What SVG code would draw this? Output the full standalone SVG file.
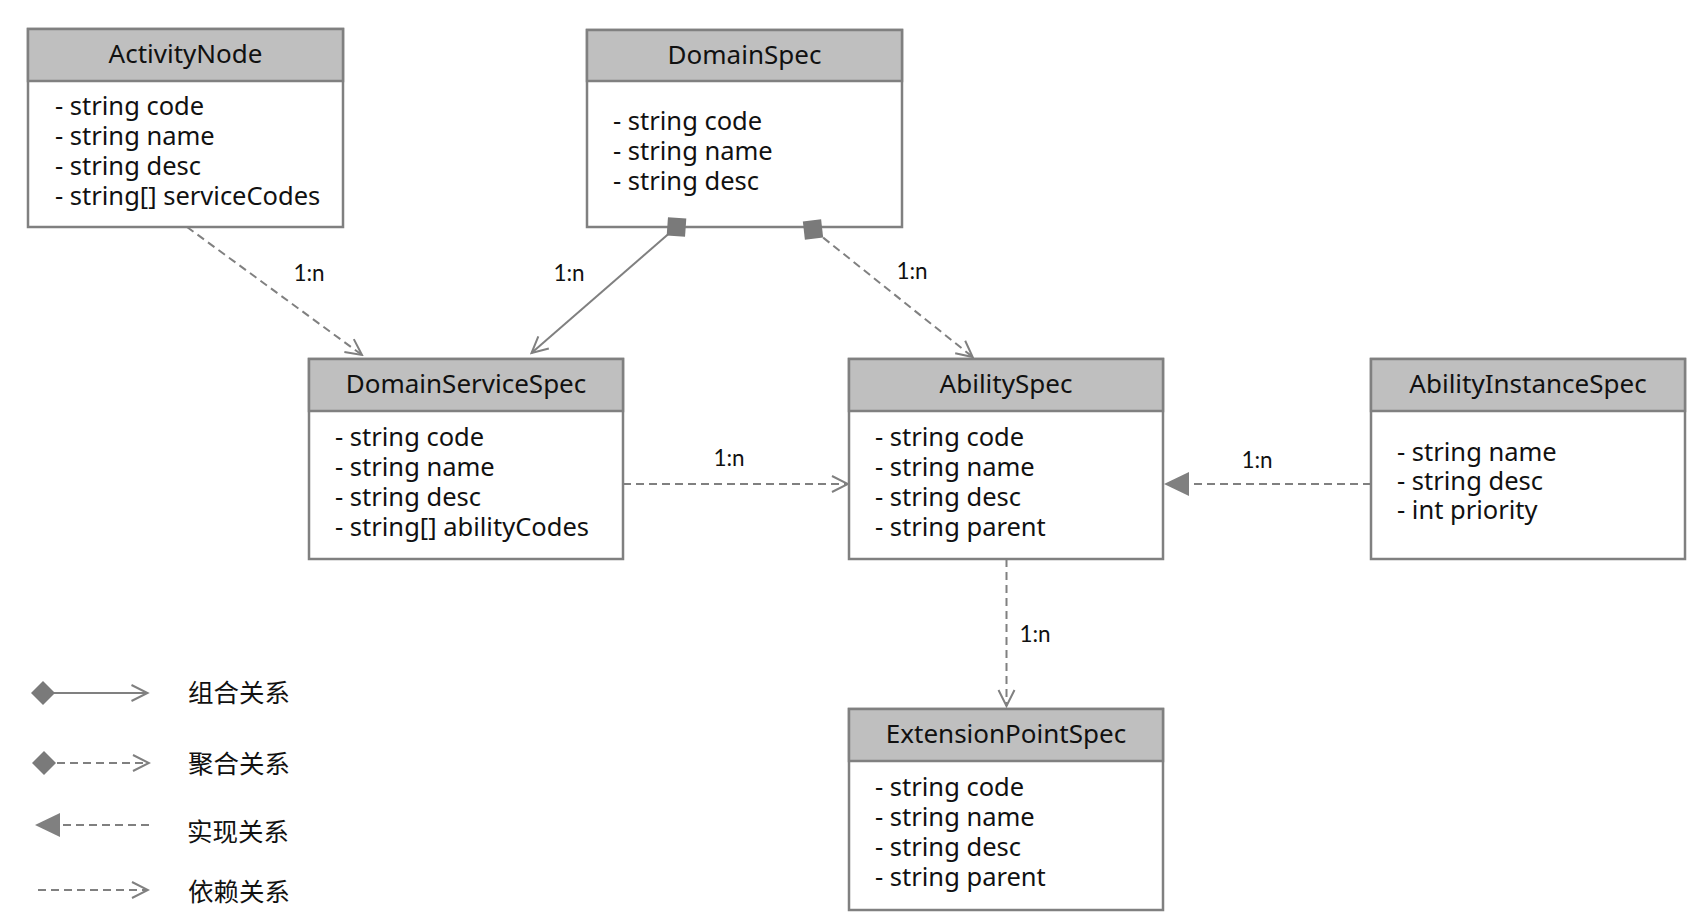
<svg xmlns="http://www.w3.org/2000/svg" width="1708" height="924" viewBox="0 0 1708 924">
<style>
.box{fill:#ffffff;stroke:#808080;stroke-width:2.5}
.hdr{fill:#bfbfbf;stroke:#808080;stroke-width:2.5}
.title{font-family:"Noto Sans","Open Sans",sans-serif;font-size:26px;fill:#111;text-anchor:middle}
.attr{font-family:"Noto Sans","Open Sans",sans-serif;font-size:25.5px;fill:#111}
.lbl{font-family:"Lato","Liberation Sans",sans-serif;font-size:22.5px;fill:#111;text-anchor:middle}
.leg{font-family:"Noto Sans CJK SC","Noto Sans",sans-serif;font-size:25.5px;fill:#111}
.ln{fill:none;stroke:#808080;stroke-width:2}
.dash{stroke-dasharray:8,5}
</style>
<defs>
<marker id="open" markerUnits="userSpaceOnUse" markerWidth="22" markerHeight="22" viewBox="-20 -11 22 22" refX="0" refY="0" orient="auto">
<path d="M-16,-8 L0,0 L-16,8" fill="none" stroke="#808080" stroke-width="2"/>
</marker>
<marker id="diamond" markerUnits="userSpaceOnUse" markerWidth="30" markerHeight="30" viewBox="-15 -15 30 30" refX="0" refY="0" orient="auto">
<path d="M-13,0 L0,-13 L13,0 L0,13 Z" fill="#7a7a7a"/>
</marker>
<marker id="ldiamond" markerUnits="userSpaceOnUse" markerWidth="30" markerHeight="30" viewBox="-15 -15 30 30" refX="0" refY="0" orient="auto">
<path d="M-12,0 L0,-12 L12,0 L0,12 Z" fill="#7a7a7a"/>
</marker>
<marker id="tri" markerUnits="userSpaceOnUse" markerWidth="30" markerHeight="30" viewBox="-28 -15 30 30" refX="0" refY="0" orient="auto">
<path d="M0,0 L-25,-12 L-25,12 Z" fill="#808080"/>
</marker>
</defs>

<g id="ActivityNode">
<rect class="box" x="28" y="29" width="315" height="198"/>
<rect class="hdr" x="28" y="29" width="315" height="52"/>
<text class="title" x="185.5" y="63">ActivityNode</text>
<text class="attr" x="55" y="115">- string code</text>
<text class="attr" x="55" y="145">- string name</text>
<text class="attr" x="55" y="175">- string desc</text>
<text class="attr" x="55" y="205">- string[] serviceCodes</text>
</g>

<g id="DomainSpec">
<rect class="box" x="587" y="30" width="315" height="197"/>
<rect class="hdr" x="587" y="30" width="315" height="51"/>
<text class="title" x="744.5" y="63.5">DomainSpec</text>
<text class="attr" x="613" y="130">- string code</text>
<text class="attr" x="613" y="160">- string name</text>
<text class="attr" x="613" y="190">- string desc</text>
</g>

<g id="DomainServiceSpec">
<rect class="box" x="309" y="359" width="314" height="200"/>
<rect class="hdr" x="309" y="359" width="314" height="52"/>
<text class="title" x="466" y="393">DomainServiceSpec</text>
<text class="attr" x="335" y="446">- string code</text>
<text class="attr" x="335" y="476">- string name</text>
<text class="attr" x="335" y="506">- string desc</text>
<text class="attr" x="335" y="536">- string[] abilityCodes</text>
</g>

<g id="AbilitySpec">
<rect class="box" x="849" y="359" width="314" height="200"/>
<rect class="hdr" x="849" y="359" width="314" height="52"/>
<text class="title" x="1006" y="393">AbilitySpec</text>
<text class="attr" x="875" y="446">- string code</text>
<text class="attr" x="875" y="476">- string name</text>
<text class="attr" x="875" y="506">- string desc</text>
<text class="attr" x="875" y="536">- string parent</text>
</g>

<g id="AbilityInstanceSpec">
<rect class="box" x="1371" y="359" width="314" height="200"/>
<rect class="hdr" x="1371" y="359" width="314" height="52"/>
<text class="title" x="1528" y="393">AbilityInstanceSpec</text>
<text class="attr" x="1397" y="461">- string name</text>
<text class="attr" x="1397" y="490">- string desc</text>
<text class="attr" x="1397" y="519">- int priority</text>
</g>

<g id="ExtensionPointSpec">
<rect class="box" x="849" y="709" width="314" height="201"/>
<rect class="hdr" x="849" y="709" width="314" height="52"/>
<text class="title" x="1006" y="743">ExtensionPointSpec</text>
<text class="attr" x="875" y="796">- string code</text>
<text class="attr" x="875" y="826">- string name</text>
<text class="attr" x="875" y="856">- string desc</text>
<text class="attr" x="875" y="886">- string parent</text>
</g>

<g id="connectors">
<line class="ln dash" x1="187" y1="227" x2="362" y2="355" marker-end="url(#open)"/>
<line class="ln" x1="676.5" y1="227" x2="531.5" y2="353" marker-start="url(#diamond)" marker-end="url(#open)"/>
<line class="ln dash" x1="813" y1="229.5" x2="972.7" y2="357" marker-start="url(#diamond)" marker-end="url(#open)"/>
<line class="ln dash" x1="623" y1="484" x2="848" y2="484" marker-end="url(#open)"/>
<line class="ln dash" x1="1371" y1="484" x2="1164" y2="484" marker-end="url(#tri)"/>
<line class="ln dash" x1="1006.5" y1="559" x2="1006.5" y2="706" marker-end="url(#open)"/>
<text class="lbl" x="309" y="281">1:n</text>
<text class="lbl" x="569" y="281">1:n</text>
<text class="lbl" x="912" y="279">1:n</text>
<text class="lbl" x="729" y="466">1:n</text>
<text class="lbl" x="1257" y="468">1:n</text>
<text class="lbl" x="1035" y="642">1:n</text>
</g>

<g id="legend">
<line class="ln" x1="43" y1="693" x2="147.5" y2="693" marker-start="url(#ldiamond)" marker-end="url(#open)"/>
<text class="leg" x="188" y="702">组合关系</text>
<line class="ln dash" x1="44" y1="763" x2="149" y2="763" marker-start="url(#ldiamond)" marker-end="url(#open)"/>
<text class="leg" x="188" y="773">聚合关系</text>
<line class="ln dash" x1="149" y1="825" x2="35" y2="825" marker-end="url(#tri)"/>
<text class="leg" x="187" y="841">实现关系</text>
<line class="ln dash" x1="38" y1="890" x2="148" y2="890" marker-end="url(#open)"/>
<text class="leg" x="188" y="901">依赖关系</text>
</g>
</svg>
